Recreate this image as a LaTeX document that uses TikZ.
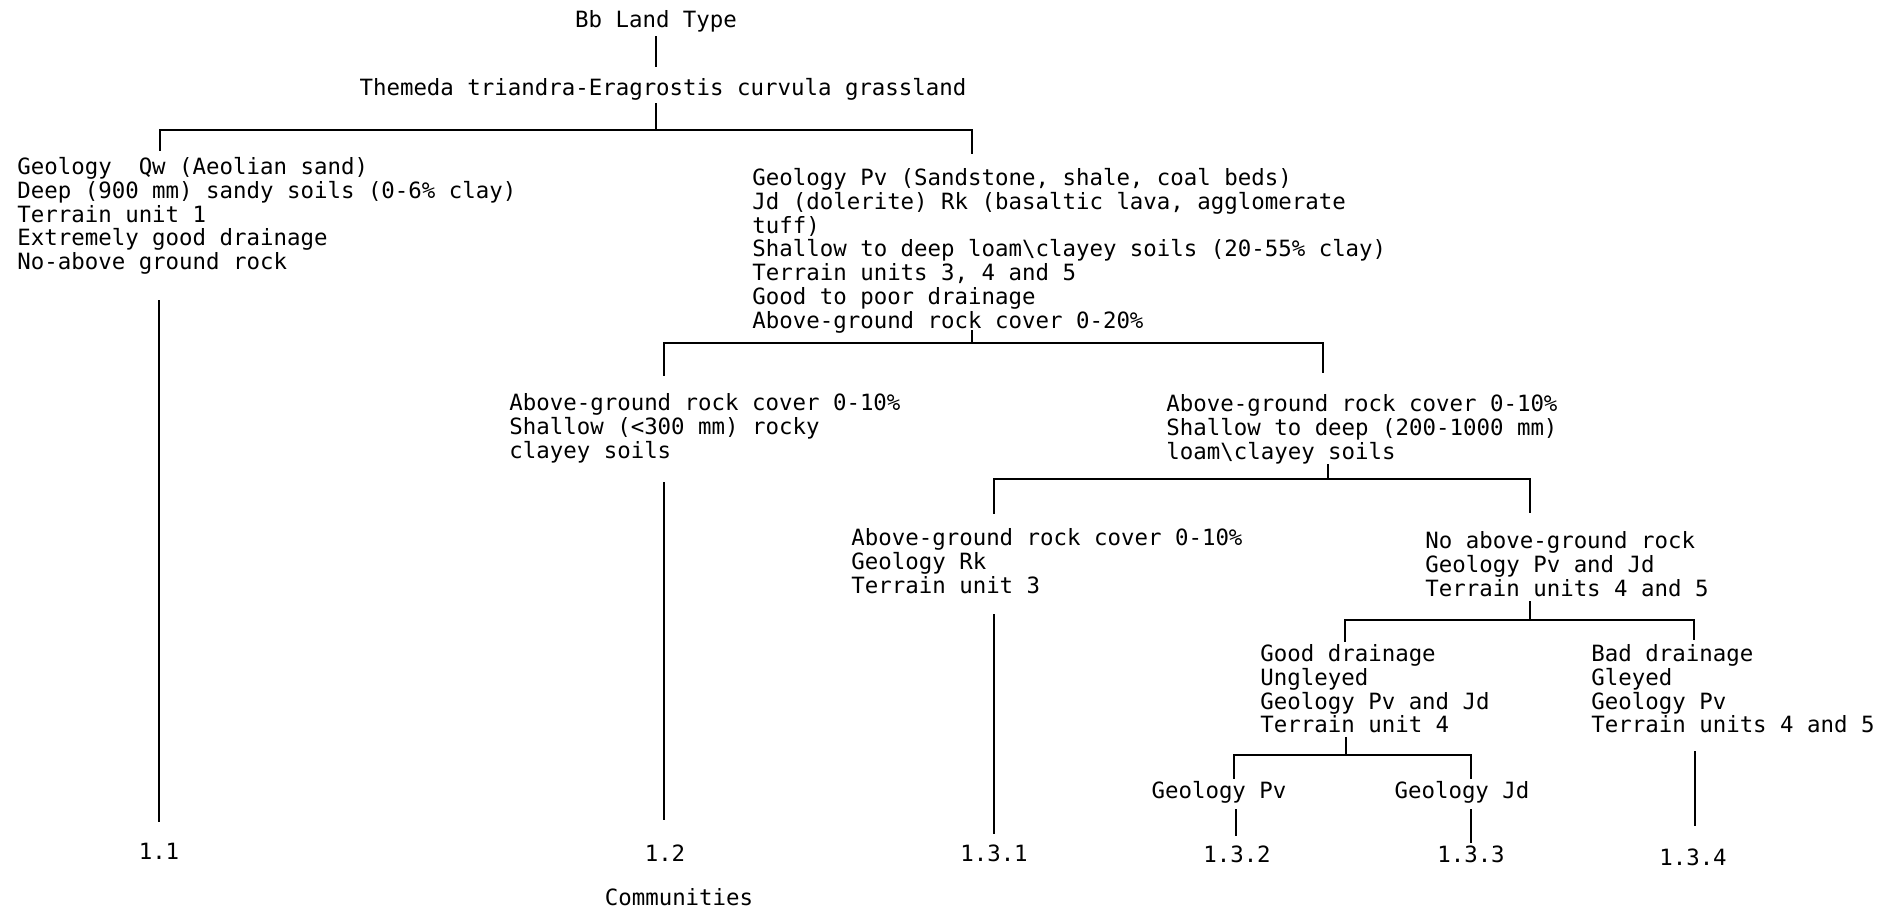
\documentclass[tikz,border=0pt]{standalone}
\usepackage{fontspec}
\newfontfamily\printfont{DejaVu Sans Mono}
\tikzset{
	typed/.style = {inner sep=0pt, font=\printfont\fontsize{11.2}{11.9}\selectfont},
	unitnode/.style = {typed, anchor=north west, align=left},
	titlenode/.style = {typed, anchor=base},
	community/.style = {typed, anchor=base},
	branch/.style = {line width=1pt},
	stem/.style = {line width=0.8pt}
}
\begin{document}
\begin{tikzpicture}[x=0.5pt, y=-0.5pt]
\useasboundingbox (0,0) rectangle (1900,910);

% land type and vegetation
\node [titlenode] (land) at (656,27) {Bb Land Type};
\node [titlenode] (grass) at (663,95) {Themeda triandra-Eragrostis curvula grassland};

% habitat units
\node [unitnode] (qw) at (17,157) {Geology\ \ Qw (Aeolian sand)\\Deep (900 mm) sandy soils (0-6\% clay)\\Terrain unit 1\\Extremely good drainage\\No-above ground rock};
\node [unitnode] (pv) at (752,168) {Geology Pv (Sandstone, shale, coal beds)\\Jd (dolerite) Rk (basaltic lava, agglomerate\\tuff)\\Shallow to deep loam\textbackslash clayey soils (20-55\% clay)\\Terrain units 3, 4 and 5\\Good to poor drainage\\Above-ground rock cover 0-20\%};
\node [unitnode] (shallow) at (509,393) {Above-ground rock cover 0-10\%\\Shallow (<300 mm) rocky\\clayey soils};
\node [unitnode] (loam) at (1166,394) {Above-ground rock cover 0-10\%\\Shallow to deep (200-1000 mm)\\loam\textbackslash clayey soils};
\node [unitnode] (rk) at (851,528) {Above-ground rock cover 0-10\%\\Geology Rk\\Terrain unit 3};
\node [unitnode] (norock) at (1425,531) {No above-ground rock\\Geology Pv and Jd\\Terrain units 4 and 5};
\node [unitnode] (good) at (1260,644) {Good drainage\\Ungleyed\\Geology Pv and Jd\\Terrain unit 4};
\node [unitnode] (bad) at (1591,644) {Bad drainage\\Gleyed\\Geology Pv\\Terrain units 4 and 5};
\node [titlenode] (geopv) at (1219,798) {Geology Pv};
\node [titlenode] (geojd) at (1462,798) {Geology Jd};

% communities
\node [community] (c11) at (159,859) {1.1};
\node [community] (c12) at (665,861) {1.2};
\node [community] (c131) at (994,861) {1.3.1};
\node [community] (c132) at (1237,862) {1.3.2};
\node [community] (c133) at (1471,862) {1.3.3};
\node [community] (c134) at (1693,865) {1.3.4};
\node [community] (communities) at (679,905) {Communities};

% junctions
\coordinate (land-out) at (656,36);
\coordinate (grass-in) at (656,67);
\coordinate (grass-out) at (656,103);
\coordinate (grass-bar) at (656,130);
\coordinate (qw-in) at (160,151);
\coordinate (pv-in) at (972,154);
\coordinate (qw-out) at (159,300);
\coordinate (c11-in) at (159,822);
\coordinate (pv-out) at (972,330);
\coordinate (pv-bar) at (972,343);
\coordinate (shallow-in) at (664,376);
\coordinate (loam-in) at (1323,373);
\coordinate (shallow-out) at (664,482);
\coordinate (c12-in) at (664,820);
\coordinate (loam-out) at (1328,464);
\coordinate (loam-bar) at (1328,479);
\coordinate (rk-in) at (994,514);
\coordinate (norock-in) at (1530,513);
\coordinate (rk-out) at (994,614);
\coordinate (c131-in) at (994,834);
\coordinate (norock-out) at (1530,601);
\coordinate (norock-bar) at (1530,620);
\coordinate (good-in) at (1345,642);
\coordinate (bad-in) at (1694,640);
\coordinate (good-out) at (1346,737);
\coordinate (good-bar) at (1346,755);
\coordinate (geopv-in) at (1234,779);
\coordinate (geojd-in) at (1471,779);
\coordinate (geopv-out) at (1236,809);
\coordinate (c132-in) at (1236,836);
\coordinate (geojd-out) at (1471,809);
\coordinate (c133-in) at (1471,843);
\coordinate (bad-out) at (1695,751);
\coordinate (c134-in) at (1695,826);

% connectors
\draw [branch] (land-out) -- (grass-in);
\draw [branch] (grass-out) -- (grass-bar) -| (qw-in);
\draw [branch] (grass-bar) -| (pv-in);
\draw [branch] (pv-out) -- (pv-bar) -| (shallow-in);
\draw [branch] (pv-bar) -| (loam-in);
\draw [branch] (loam-out) -- (loam-bar) -| (rk-in);
\draw [branch] (loam-bar) -| (norock-in);
\draw [branch] (norock-out) -- (norock-bar) -| (good-in);
\draw [branch] (norock-bar) -| (bad-in);
\draw [branch] (good-out) -- (good-bar) -| (geopv-in);
\draw [branch] (good-bar) -| (geojd-in);
\draw [stem] (qw-out) -- (c11-in);
\draw [stem] (shallow-out) -- (c12-in);
\draw [stem] (rk-out) -- (c131-in);
\draw [stem] (geopv-out) -- (c132-in);
\draw [stem] (geojd-out) -- (c133-in);
\draw [stem] (bad-out) -- (c134-in);
\end{tikzpicture}
\end{document}
